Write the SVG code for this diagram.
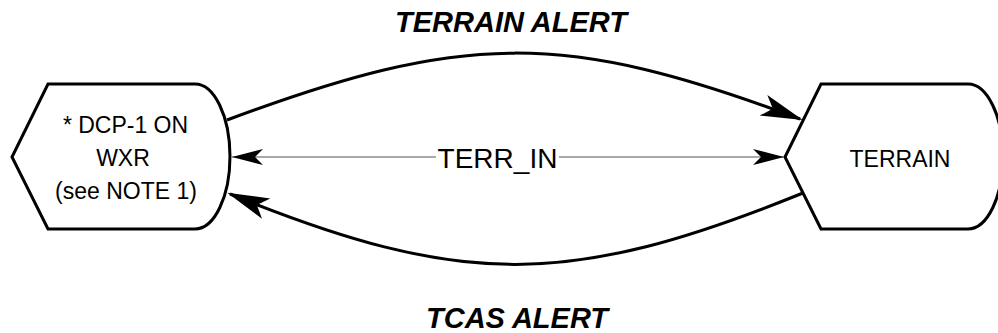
<svg xmlns="http://www.w3.org/2000/svg" width="998" height="333" viewBox="0 0 998 333">
  <style>
    .node { fill: #ffffff; stroke: #000000; stroke-width: 3; stroke-linejoin: miter; }
    .lbl { font-family: "Liberation Sans", Arial, sans-serif; fill: #000000; text-anchor: middle; }
    .nlbl { font-size: 23px; }
    .title { font-size: 29px; font-weight: bold; font-style: italic; }
    .mid { font-size: 28px; }
    .thick { fill: none; stroke: #000000; stroke-width: 3; }
    .thin { fill: none; stroke: #555555; stroke-width: 1.2; }
  </style>
  <defs>
    <marker id="bigArrow" markerUnits="userSpaceOnUse" markerWidth="44" markerHeight="24" refX="39" refY="11" orient="auto" overflow="visible">
      <path d="M0,0 L42,11 L0,22 L10,11 Z" fill="#000000"/>
    </marker>
    <marker id="smallArrow" markerUnits="userSpaceOnUse" markerWidth="34" markerHeight="18" refX="31" refY="8" orient="auto" overflow="visible">
      <path d="M0,0 L31,8 L0,16 L8,8 Z" fill="#000000"/>
    </marker>
  </defs>

  <g id="titles">
    <text class="lbl title" x="511" y="32">TERRAIN ALERT</text>
    <text class="lbl title" x="517" y="328">TCAS ALERT</text>
  </g>

  <g id="node-wxr">
    <path class="node" d="M48,84 H195 A35,72.5 0 0 1 195,229 H48 L12,157 Z"/>
    <text class="lbl nlbl" x="125.5" y="133">* DCP-1 ON</text>
    <text class="lbl nlbl" x="123" y="166">WXR</text>
    <text class="lbl nlbl" x="126" y="199">(see NOTE 1)</text>
  </g>

  <g id="node-terrain">
    <path class="node" d="M821,84 H968 A35,72.5 0 0 1 968,229 H821 L785,157 Z"/>
    <text class="lbl nlbl" x="900" y="167">TERRAIN</text>
  </g>

  <g id="connectors">
    <path class="thick" d="M227,120 C465,31 565,31 800,119" marker-end="url(#bigArrow)"/>
    <path class="thick" d="M803,193 C568,288 462,288 230,194" marker-end="url(#bigArrow)"/>
    <line class="thin" x1="559" y1="157" x2="784" y2="157" marker-end="url(#smallArrow)"/>
    <line class="thin" x1="436" y1="157" x2="232" y2="157" marker-end="url(#smallArrow)"/>
    <text class="lbl mid" x="497.5" y="168">TERR_IN</text>
  </g>
</svg>
